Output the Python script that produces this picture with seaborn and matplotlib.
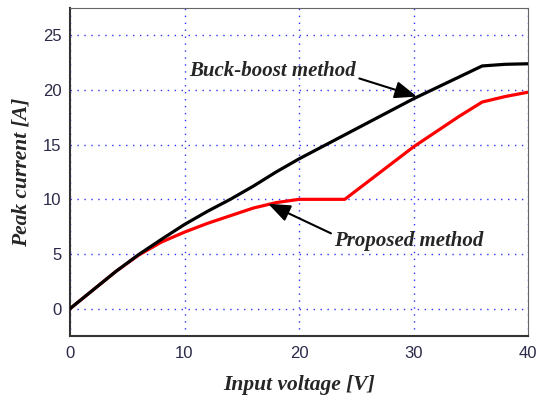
import matplotlib
matplotlib.use("Agg")
import matplotlib.pyplot as plt
import seaborn as sns
import pandas as pd
from matplotlib.ticker import MultipleLocator

voltage = [0, 2, 4, 6, 8, 10, 12, 14, 16, 18, 20, 22, 24, 26, 28, 30, 32, 34, 36, 38, 40]
buck_boost = [0, 1.7, 3.4, 4.95, 6.35, 7.7, 8.9, 10.0, 11.2, 12.5, 13.7, 14.8, 15.9, 17.0, 18.1, 19.2, 20.2, 21.2, 22.2, 22.35, 22.4]
proposed_v = [0, 2, 4, 6, 8, 10, 12, 14, 16, 18, 20, 22, 24, 26, 28, 30, 32, 34, 36, 38, 40]
proposed = [0, 1.7, 3.4, 4.9, 6.1, 7.0, 7.8, 8.5, 9.2, 9.7, 10.0, 10.0, 10.0, 11.6, 13.2, 14.8, 16.2, 17.6, 18.9, 19.4, 19.8]

sns.set_style("white")
plt.rcParams['font.family'] = ['Liberation Sans', 'DejaVu Sans']

fig = plt.figure(figsize=(5.37, 4.01), dpi=100)
ax = fig.add_axes([70/537, 65/401, 458/537, 328/401])

df_b = pd.DataFrame({"v": voltage, "i": buck_boost})
df_p = pd.DataFrame({"v": proposed_v, "i": proposed})
sns.lineplot(data=df_b, x="v", y="i", ax=ax, color="black", linewidth=2.3, zorder=4)
sns.lineplot(data=df_p, x="v", y="i", ax=ax, color="#ff0000", linewidth=2.3, zorder=3)

ax.set_xlim(0, 40)
ax.set_ylim(-2.5, 27.5)
ax.xaxis.set_major_locator(MultipleLocator(10))
ax.xaxis.set_minor_locator(MultipleLocator(5))
ax.yaxis.set_major_locator(MultipleLocator(5))
ax.yaxis.set_minor_locator(MultipleLocator(2.5))
ax.tick_params(which="major", direction="in", length=5, width=1.2, labelsize=12,
               labelcolor="#2a2a48", color="#333333")
ax.tick_params(which="minor", direction="in", length=3, width=1.0, color="#333333")
ax.tick_params(axis="x", pad=7)
ax.tick_params(axis="y", pad=6)

ax.grid(True, which="major", color="#3030ff", linestyle=(0, (1, 4)), linewidth=1.0)
for s in ["left", "bottom"]:
    ax.spines[s].set_linewidth(1.5)
    ax.spines[s].set_color("#333333")
for s in ["top", "right"]:
    ax.spines[s].set_linewidth(0.8)
    ax.spines[s].set_color("#666666")

serif = dict(family="Liberation Serif", fontweight="bold", fontstyle="italic")
ax.set_xlabel("Input voltage [V]", fontsize=15.5, labelpad=10, **serif)
ax.set_ylabel("Peak current [A]", fontsize=15.5, labelpad=8, **serif)

ax.annotate("Buck-boost method", xy=(30.3, 19.4), xytext=(17.7, 21.7),
            ha="center", va="center", fontsize=15, **serif,
            arrowprops=dict(arrowstyle="-|>,head_length=0.9,head_width=0.35",
                            color="black", lw=1.5,
                            relpos=(1.0, 0.2), shrinkA=0, shrinkB=0))
ax.annotate("Proposed method", xy=(17.3, 9.6), xytext=(29.6, 6.2),
            ha="center", va="center", fontsize=15, **serif,
            arrowprops=dict(arrowstyle="-|>,head_length=0.9,head_width=0.35",
                            color="black", lw=1.5,
                            relpos=(0.0, 0.8), shrinkA=0, shrinkB=0))

fig.savefig("out.png", dpi=100)
